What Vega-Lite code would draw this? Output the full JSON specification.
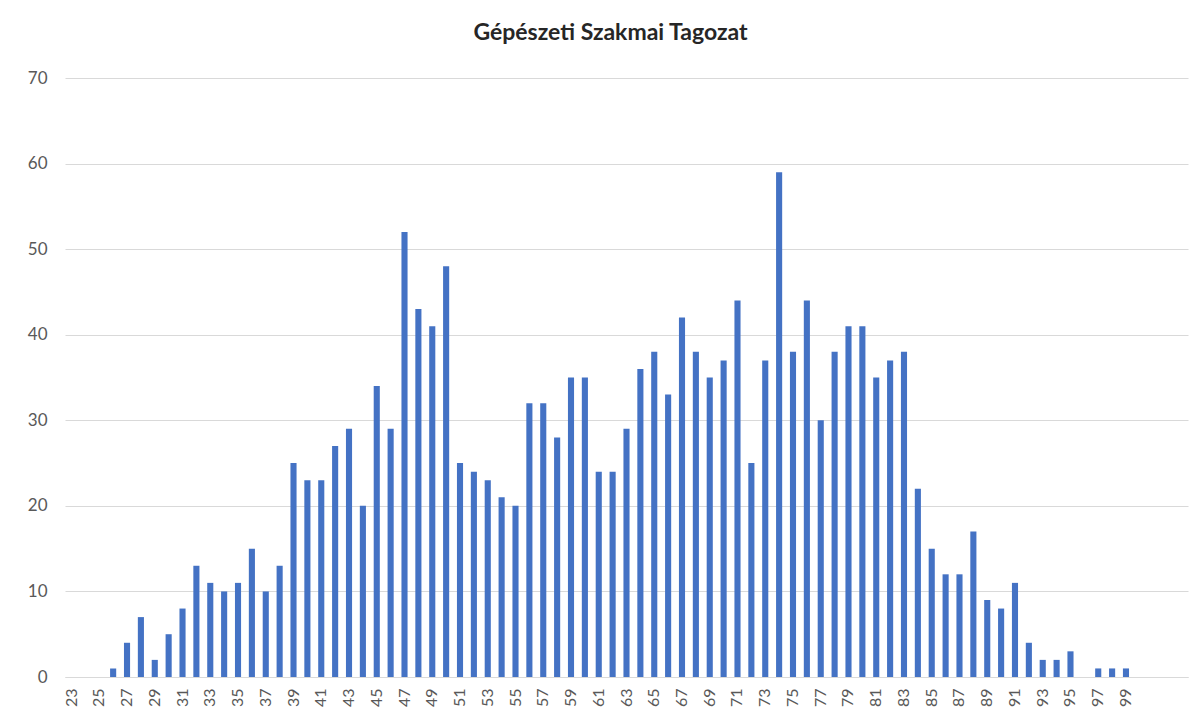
{
  "$schema": "https://vega.github.io/schema/vega-lite/v6.json",
  "autosize": {"type": "none"},
  "padding": {"left": 65, "top": 78, "right": 12, "bottom": 38},
  "width": 1123,
  "height": 599,
  "background": "white",
  "title": {
    "text": "Gépészeti Szakmai Tagozat",
    "font": "Lato",
    "fontSize": 23,
    "fontWeight": "bold",
    "color": "#262626",
    "anchor": "middle",
    "dx": -16,
    "offset": 24
  },
  "data": {
    "values": [
      {"pont": 23, "db": 0}, {"pont": 24, "db": 0}, {"pont": 25, "db": 0}, {"pont": 26, "db": 1},
      {"pont": 27, "db": 4}, {"pont": 28, "db": 7}, {"pont": 29, "db": 2}, {"pont": 30, "db": 5},
      {"pont": 31, "db": 8}, {"pont": 32, "db": 13}, {"pont": 33, "db": 11}, {"pont": 34, "db": 10},
      {"pont": 35, "db": 11}, {"pont": 36, "db": 15}, {"pont": 37, "db": 10}, {"pont": 38, "db": 13},
      {"pont": 39, "db": 25}, {"pont": 40, "db": 23}, {"pont": 41, "db": 23}, {"pont": 42, "db": 27},
      {"pont": 43, "db": 29}, {"pont": 44, "db": 20}, {"pont": 45, "db": 34}, {"pont": 46, "db": 29},
      {"pont": 47, "db": 52}, {"pont": 48, "db": 43}, {"pont": 49, "db": 41}, {"pont": 50, "db": 48},
      {"pont": 51, "db": 25}, {"pont": 52, "db": 24}, {"pont": 53, "db": 23}, {"pont": 54, "db": 21},
      {"pont": 55, "db": 20}, {"pont": 56, "db": 32}, {"pont": 57, "db": 32}, {"pont": 58, "db": 28},
      {"pont": 59, "db": 35}, {"pont": 60, "db": 35}, {"pont": 61, "db": 24}, {"pont": 62, "db": 24},
      {"pont": 63, "db": 29}, {"pont": 64, "db": 36}, {"pont": 65, "db": 38}, {"pont": 66, "db": 33},
      {"pont": 67, "db": 42}, {"pont": 68, "db": 38}, {"pont": 69, "db": 35}, {"pont": 70, "db": 37},
      {"pont": 71, "db": 44}, {"pont": 72, "db": 25}, {"pont": 73, "db": 37}, {"pont": 74, "db": 59},
      {"pont": 75, "db": 38}, {"pont": 76, "db": 44}, {"pont": 77, "db": 30}, {"pont": 78, "db": 38},
      {"pont": 79, "db": 41}, {"pont": 80, "db": 41}, {"pont": 81, "db": 35}, {"pont": 82, "db": 37},
      {"pont": 83, "db": 38}, {"pont": 84, "db": 22}, {"pont": 85, "db": 15}, {"pont": 86, "db": 12},
      {"pont": 87, "db": 12}, {"pont": 88, "db": 17}, {"pont": 89, "db": 9}, {"pont": 90, "db": 8},
      {"pont": 91, "db": 11}, {"pont": 92, "db": 4}, {"pont": 93, "db": 2}, {"pont": 94, "db": 2},
      {"pont": 95, "db": 3}, {"pont": 96, "db": 0}, {"pont": 97, "db": 1}, {"pont": 98, "db": 1},
      {"pont": 99, "db": 1}
    ]
  },
  "mark": {"type": "bar", "color": "#4472C4"},
  "encoding": {
    "x": {
      "field": "pont",
      "type": "ordinal",
      "scale": {
        "domain": [23,24,25,26,27,28,29,30,31,32,33,34,35,36,37,38,39,40,41,42,43,44,45,46,47,48,49,50,51,52,53,54,55,56,57,58,59,60,61,62,63,64,65,66,67,68,69,70,71,72,73,74,75,76,77,78,79,80,81,82,83,84,85,86,87,88,89,90,91,92,93,94,95,96,97,98,99,100,101,102,103],
        "paddingInner": 0.56,
        "paddingOuter": 0.25
      },
      "axis": {
        "title": null,
        "labelAngle": -90,
        "labelExpr": "(datum.value % 2 == 1 && datum.value <= 99) ? datum.label : ''",
        "labelFont": "Lato",
        "labelFontSize": 16,
        "labelColor": "#595959",
        "labelPadding": 11,
        "labelOverlap": false,
        "ticks": false,
        "domain": true,
        "domainColor": "#d9d9d9",
        "domainWidth": 1,
        "grid": false
      }
    },
    "y": {
      "field": "db",
      "type": "quantitative",
      "scale": {"domain": [0, 70], "nice": false},
      "axis": {
        "title": null,
        "values": [0, 10, 20, 30, 40, 50, 60, 70],
        "labelFont": "Lato",
        "labelFontSize": 17,
        "labelColor": "#595959",
        "labelPadding": 18,
        "ticks": false,
        "domain": false,
        "grid": true,
        "gridColor": "#d9d9d9",
        "gridWidth": 1
      }
    }
  },
  "config": {"view": {"stroke": null}}
}
